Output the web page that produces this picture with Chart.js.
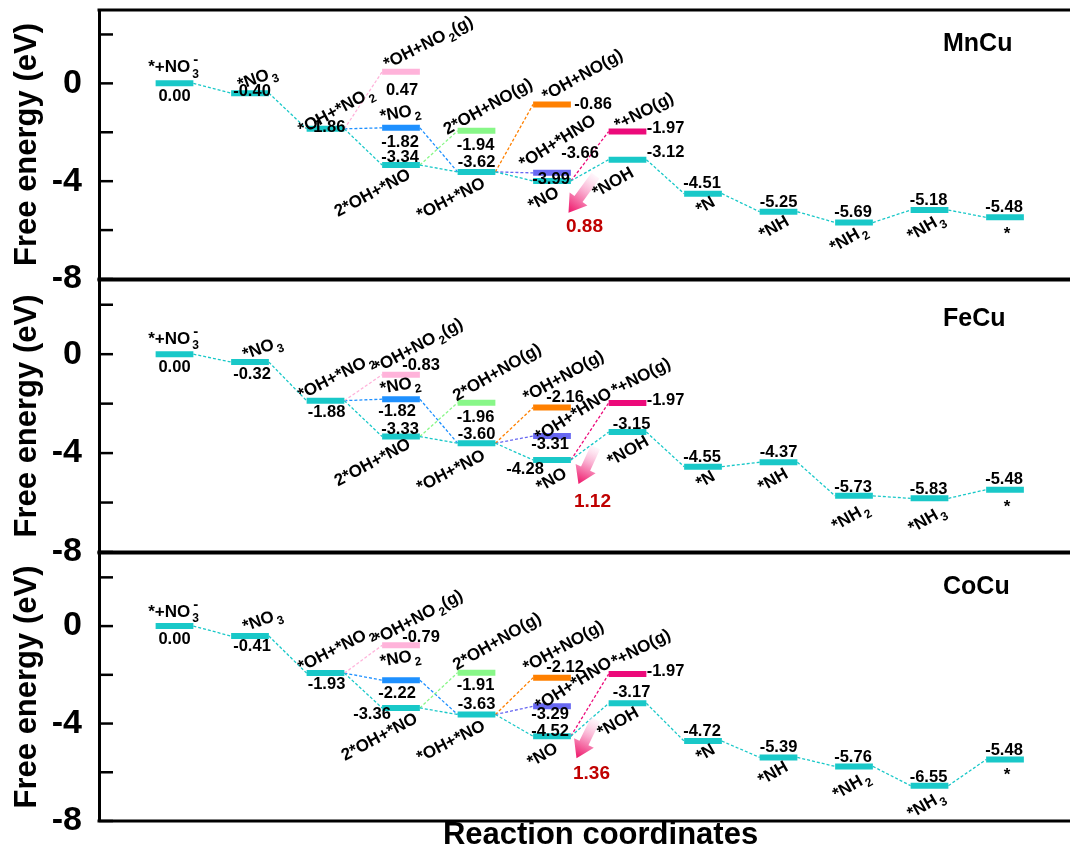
<!DOCTYPE html>
<html>
<head>
<meta charset="utf-8">
<script src="https://cdn.jsdelivr.net/npm/chart.js@4.4.1/dist/chart.umd.min.js"></script>
<style>
  html, body { margin: 0; padding: 0; background: #fff; overflow: hidden; }
  #wrap { position: relative; width: 1070px; height: 854px; overflow: hidden; background: #fff; }
  #wrap canvas { position: absolute; left: 0; top: 0; }
</style>
</head>
<body>
<div id="wrap">
  <canvas id="c0" width="1102" height="854"></canvas>
  <canvas id="c1" width="1102" height="854"></canvas>
  <canvas id="c2" width="1102" height="854"></canvas>
</div>
<script>
const FONT = '"Liberation Sans", Arial, Helvetica, sans-serif';

// ---- data -------------------------------------------------------------
// Main pathway intermediates, columns 1..12 ("_x" subscript, "^x" superscript)
const stepNames = ['*+NO_3^-', '*NO_3', '*OH+*NO_2', '2*OH+*NO', '*OH+*NO', '*NO',
                   '*NOH', '*N', '*NH', '*NH_2', '*NH_3', '*'];
// Side intermediates and the column each sits in
const sideNames = ['*OH+NO_2(g)', '*NO_2', '2*OH+NO(g)', '*OH+NO(g)', '*OH+*HNO', '*+NO(g)'];
const sideColumns = [4, 4, 5, 6, 6, 7];
// side intermediate -> main column it feeds into (*NO2 -> *OH+*NO)
const sideOutLinks = [[1, 5]];

const catalysts = ['MnCu', 'FeCu', 'CoCu'];

const mnCuSteps = [0.00, -0.40, -1.86, -3.34, -3.62, -3.99, -3.12, -4.51, -5.25, -5.69, -5.18, -5.48];
const mnCuSide  = [0.47, -1.82, -1.94, -0.86, -3.66, -1.97];
const feCuSteps = [0.00, -0.32, -1.88, -3.33, -3.60, -4.28, -3.15, -4.55, -4.37, -5.73, -5.83, -5.48];
const feCuSide  = [-0.83, -1.82, -1.96, -2.16, -3.31, -1.97];
const coCuSteps = [0.00, -0.41, -1.93, -3.36, -3.63, -4.52, -3.17, -4.72, -5.39, -5.76, -6.55, -5.48];
const coCuSide  = [-0.79, -2.22, -1.91, -2.12, -3.29, -1.97];

// potential-limiting step (*NO -> *NOH)
const limitingBarrier = [0.88, 1.12, 1.36];

const yTicks = [2, 0, -2, -4, -6, -8];
const yLabelled = [0, -4, -8];

// ---- styling ----------------------------------------------------------
const stepColor = '#19C8C8';
const sideColors = ['#FFB3DA', '#1E90FF', '#88F788', '#FF8000', '#6868F2', '#EC0A7A'];
const LEVEL_HALF = 0.25;   // half width of an energy level, in x units
const NAME_SIZE = 17;
const VALUE_SIZE = 16.5;

// label offsets in px from each level's centre: [nameDx, nameDy, nameRot, valueDx, valueDy]
const mnCuStepPos = [
  [-1, -17, 0, 0, 12], [7, -16, -20, 2, -3], [10, -19, -28, 1, -3], [-29, 27, -28, -1, -9],
  [-26, 26, -27, 0, -11], [-9, 17, -28, -1, -3], [-15, 22, -30, 38, -9], [2, 11, -30, -1, -12],
  [-5, 15, -30, 0, -11], [-6, 15, -30, -1, -11], [-4, 16, -30, -1, -11], [2, 16, 0, -1, -11]
];
const mnCuSidePos = [
  [27, -30, -27, 1, 17], [-1, -16, -10, -1, 13], [11, -25, -29, -1, 13],
  [30, -30, -29, 41, -1], [5, -32, -32, 28, -21], [16, -21, -27, 38, -4]
];
const feCuStepPos = [
  [-1, -16, 0, 0, 12], [12, -15, -20, 2, 11], [10, -25, -27, 1, 10], [-29, 25, -28, -1, -8],
  [-26, 27, -27, 0, -10], [-1, 19, -30, -27, 8], [0, 18, -30, 4, -9], [2, 12, -30, -1, -11],
  [-6, 17, -30, 0, -11], [-4, 20, -30, -1, -10], [-3, 20, -30, -1, -10], [2, 16, 0, -1, -12]
];
const feCuSidePos = [
  [17, -30, -28, 20, -11], [-1, -15, -10, -4, 11], [20, -31, -30, -1, 13],
  [11, -32, -29, 13, -12], [21, -22, -32, -2, 7], [13, -27, -27, 38, -4]
];
const coCuStepPos = [
  [-1, -15, 0, 0, 12], [12, -17, -20, 2, 9], [10, -25, -27, 1, 10], [-22, 28, -28, -29, 5],
  [-26, 26, -27, 0, -11], [-10, 18, -30, -2, -6], [-10, 18, -30, 4, -12], [2, 11, -30, -1, -11],
  [-6, 15, -30, 0, -11], [-3, 18, -30, -1, -10], [-4, 18, -30, -1, -10], [2, 14, 0, -1, -11]
];
const coCuSidePos = [
  [17, -29, -28, 20, -9], [-1, -23, -10, -4, 12], [20, -32, -30, -1, 11],
  [11, -32, -29, 13, -12], [21, -23, -32, -2, 7], [13, -27, -27, 38, -4]
];

// arrow (tail, tip) and barrier label offsets from the *NOH level centre
const barrierGeom = [
  { tail: [-32, 16], tip: [-59, 53], label: [-43, 65] },
  { tail: [-32, 15], tip: [-49, 52], label: [-35, 68] },
  { tail: [-32, 16], tip: [-51, 55], label: [-36, 69] }
];

const panels = [
  { name: catalysts[0], steps: mnCuSteps, side: mnCuSide, stepPos: mnCuStepPos, sidePos: mnCuSidePos, top: 10,  bottom: 279, titleDy: 34 },
  { name: catalysts[1], steps: feCuSteps, side: feCuSide, stepPos: feCuStepPos, sidePos: feCuSidePos, top: 280, bottom: 552, titleDy: 39 },
  { name: catalysts[2], steps: coCuSteps, side: coCuSide, stepPos: coCuStepPos, sidePos: coCuSidePos, top: 553, bottom: 821, titleDy: 34 }
];

// ---- helpers ----------------------------------------------------------
function segment(x1, y1, x2, y2, color, dashed) {
  return {
    type: 'line',
    data: [{ x: x1, y: y1 }, { x: x2, y: y2 }],
    borderColor: color,
    borderWidth: dashed ? 1.3 : 6,
    borderDash: dashed ? [3, 2] : [],
    borderCapStyle: 'butt',
    pointRadius: 0,
    fill: false,
    tension: 0,
    order: dashed ? 2 : 1
  };
}

function buildDatasets(steps, side) {
  const ds = [];
  const H = LEVEL_HALF;
  // dashed connectors along the main pathway
  for (let i = 0; i < steps.length - 1; i++) {
    ds.push(segment(i + 1 + H, steps[i], i + 2 - H, steps[i + 1], stepColor, true));
  }
  // connectors into side intermediates
  side.forEach((v, k) => {
    const c = sideColumns[k];
    ds.push(segment(c - 1 + H, steps[c - 2], c - H, v, sideColors[k], true));
  });
  // connectors out of side intermediates
  sideOutLinks.forEach(([k, c]) => {
    ds.push(segment(sideColumns[k] + H, side[k], c - H, steps[c - 1], sideColors[k], true));
  });
  // energy levels
  steps.forEach((v, i) => ds.push(segment(i + 1 - H, v, i + 1 + H, v, stepColor, false)));
  side.forEach((v, k) => ds.push(segment(sideColumns[k] - H, v, sideColumns[k] + H, v, sideColors[k], false)));
  return ds;
}

function parseRich(text) {
  const segs = [];
  let i = 0;
  while (i < text.length) {
    const c = text[i];
    if ((c === '_' || c === '^') && i + 1 < text.length) {
      segs.push({ t: text[i + 1], mode: c === '_' ? 'sub' : 'sup' });
      i += 2;
    } else {
      let j = i;
      while (j < text.length && text[j] !== '_' && text[j] !== '^') j++;
      segs.push({ t: text.slice(i, j), mode: 'n' });
      i = j;
    }
  }
  return segs;
}

function segSize(mode, size) {
  if (mode === 'sub') return Math.round(size * 0.72);
  if (mode === 'sup') return Math.round(size * 0.9);
  return size;
}

function drawRich(ctx, text, x, y, rot, size, color) {
  const segs = parseRich(text);
  let w = 0, prev = null;
  segs.forEach(s => {
    ctx.font = `bold ${segSize(s.mode, size)}px ${FONT}`;
    s.w = ctx.measureText(s.t).width;
    if (s.mode === 'sup' && prev && prev.mode === 'sub') {
      s.x = prev.x + 1;
      w = Math.max(w, s.x + s.w);
    } else {
      if (s.mode === 'sub') w += 2;
      s.x = w;
      w += s.w;
    }
    prev = s;
  });
  ctx.save();
  ctx.translate(x, y);
  ctx.rotate(rot * Math.PI / 180);
  ctx.fillStyle = color;
  ctx.textAlign = 'left';
  ctx.textBaseline = 'alphabetic';
  const base = size * 0.36;
  segs.forEach(s => {
    ctx.font = `bold ${segSize(s.mode, size)}px ${FONT}`;
    const dy = s.mode === 'sub' ? size * 0.3 : (s.mode === 'sup' ? -size * 0.5 : 0);
    ctx.fillText(s.t, -w / 2 + s.x, base + dy);
  });
  ctx.restore();
}

function drawArrow(ctx, tx, ty, px, py) {
  const dx = px - tx, dy = py - ty;
  const L = Math.hypot(dx, dy);
  const ux = dx / L, uy = dy / L, nx = -uy, ny = ux;
  const sw = 5, hw = 11, hl = 17;
  const bx = px - ux * hl, by = py - uy * hl;
  const g = ctx.createLinearGradient(tx, ty, px, py);
  g.addColorStop(0, 'rgba(255,240,248,0.6)');
  g.addColorStop(0.45, '#F9A6CB');
  g.addColorStop(1, '#EE1468');
  ctx.save();
  ctx.fillStyle = g;
  ctx.beginPath();
  ctx.moveTo(tx + nx * sw, ty + ny * sw);
  ctx.lineTo(bx + nx * sw, by + ny * sw);
  ctx.lineTo(bx + nx * hw, by + ny * hw);
  ctx.lineTo(px, py);
  ctx.lineTo(bx - nx * hw, by - ny * hw);
  ctx.lineTo(bx - nx * sw, by - ny * sw);
  ctx.lineTo(tx - nx * sw, ty - ny * sw);
  ctx.closePath();
  ctx.fill();
  ctx.restore();
}

function makeDecor(p, idx) {
  return {
    id: 'decor' + idx,
    afterDraw(chart) {
      const ctx = chart.ctx;
      const xs = chart.scales.x, ys = chart.scales.y;
      const area = chart.chartArea;
      ctx.save();
      // inward tick marks
      ctx.strokeStyle = '#000';
      ctx.lineWidth = 2.5;
      yTicks.forEach(v => {
        const y = ys.getPixelForValue(v);
        ctx.beginPath();
        ctx.moveTo(area.left, y);
        ctx.lineTo(area.left + 14, y);
        ctx.stroke();
      });
      // frame top and bottom
      ctx.lineWidth = 3;
      [area.top, area.bottom].forEach(y => {
        ctx.beginPath();
        ctx.moveTo(area.left - 1.5, y);
        ctx.lineTo(area.right + 2, y);
        ctx.stroke();
      });
      ctx.restore();

      const at = (col, v) => [xs.getPixelForValue(col), ys.getPixelForValue(v)];
      // main pathway labels
      p.steps.forEach((v, i) => {
        const [cx, cy] = at(i + 1, v);
        const q = p.stepPos[i];
        drawRich(ctx, stepNames[i], cx + q[0], cy + q[1], q[2], NAME_SIZE, '#000');
        drawRich(ctx, v.toFixed(2), cx + q[3], cy + q[4], 0, VALUE_SIZE, '#000');
      });
      // side intermediate labels
      p.side.forEach((v, k) => {
        const [cx, cy] = at(sideColumns[k], v);
        const q = p.sidePos[k];
        drawRich(ctx, sideNames[k], cx + q[0], cy + q[1], q[2], NAME_SIZE, '#000');
        drawRich(ctx, v.toFixed(2), cx + q[3], cy + q[4], 0, VALUE_SIZE, '#000');
      });
      // limiting-step arrow and value
      const [ax, ay] = at(7, p.steps[6]);
      const b = barrierGeom[idx];
      drawArrow(ctx, ax + b.tail[0], ay + b.tail[1], ax + b.tip[0], ay + b.tip[1]);
      drawRich(ctx, limitingBarrier[idx].toFixed(2), ax + b.label[0], ay + b.label[1], 0, 19, '#C00000');
      // catalyst name
      ctx.save();
      ctx.font = `bold 25px ${FONT}`;
      ctx.fillStyle = '#000';
      ctx.textAlign = 'left';
      ctx.textBaseline = 'middle';
      ctx.fillText(p.name, 943, area.top + p.titleDy);
      ctx.restore();
    }
  };
}

const CANVAS_W = 1102, CANVAS_H = 854, AXIS_X = 99, COL_PX = 75.5;
const xMax = (CANVAS_W - AXIS_X) / COL_PX;

panels.forEach((p, idx) => {
  const isLast = idx === panels.length - 1;
  const xScale = {
    type: 'linear', min: 0, max: xMax,
    display: isLast,
    grid: { display: false, drawTicks: false },
    ticks: { display: false },
    border: { display: false },
    title: {
      display: isLast, text: 'Reaction coordinates', color: '#000',
      font: { family: FONT, size: 31, weight: 'bold' }, padding: 0
    }
  };
  if (isLast) {
    xScale.afterFit = s => { s.height = CANVAS_H - p.bottom; s.paddingLeft = 0; s.paddingRight = 0; };
  }
  new Chart(document.getElementById('c' + idx), {
    type: 'line',
    data: { datasets: buildDatasets(p.steps, p.side) },
    options: {
      responsive: false,
      animation: false,
      devicePixelRatio: 1,
      events: [],
      layout: { padding: { top: p.top, bottom: isLast ? 0 : CANVAS_H - p.bottom, left: 0, right: 0 } },
      plugins: { legend: { display: false }, tooltip: { enabled: false } },
      scales: {
        x: xScale,
        y: {
          type: 'linear', min: -8, max: 3,
          afterBuildTicks(s) { s.ticks = yTicks.map(v => ({ value: v })); },
          ticks: {
            callback: v => (yLabelled.includes(v) ? String(v) : ''),
            font: { family: FONT, size: 34, weight: 'bold' }, color: '#000', padding: 17
          },
          grid: { display: false, drawTicks: false },
          border: { display: true, width: 3, color: '#000' },
          title: {
            display: true, text: 'Free energy (eV)', color: '#000',
            font: { family: FONT, size: 31, weight: 'bold' }, padding: { top: 9, bottom: 0 }
          },
          afterFit(s) {
            s.width = AXIS_X;
            s.paddingTop = 0; s.paddingBottom = 0;
          }
        }
      }
    },
    plugins: [makeDecor(p, idx)]
  });
});
</script>
</body>
</html>
